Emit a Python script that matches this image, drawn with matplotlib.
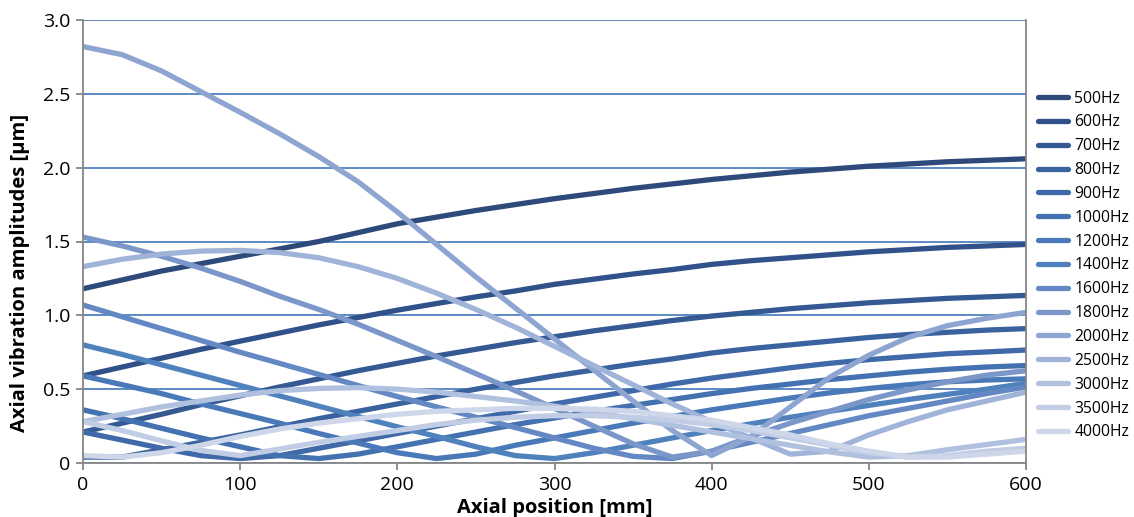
import matplotlib
matplotlib.use("Agg")
import matplotlib.pyplot as plt
from matplotlib.ticker import FixedLocator

plt.rcParams['font.family'] = ['Open Sans', 'DejaVu Sans']

position_mm = [0, 25, 50, 75, 100, 125, 150, 175, 200, 225, 250, 275, 300,
               325, 350, 375, 400, 425, 450, 475, 500, 525, 550, 575, 600]

f500 = [1.18, 1.24, 1.30, 1.35, 1.40, 1.45, 1.50, 1.56, 1.62, 1.665, 1.71, 1.75, 1.79,
        1.825, 1.86, 1.89, 1.92, 1.945, 1.97, 1.99, 2.01, 2.025, 2.04, 2.05, 2.06]
f600 = [0.59, 0.65, 0.71, 0.77, 0.825, 0.88, 0.935, 0.985, 1.035, 1.08, 1.125, 1.165, 1.21,
        1.245, 1.28, 1.31, 1.345, 1.37, 1.39, 1.41, 1.43, 1.445, 1.46, 1.47, 1.48]
f700 = [0.21, 0.27, 0.33, 0.395, 0.455, 0.515, 0.57, 0.625, 0.675, 0.725, 0.77, 0.815, 0.855,
        0.895, 0.93, 0.965, 0.995, 1.02, 1.045, 1.065, 1.085, 1.10, 1.115, 1.125, 1.135]
f800 = [0.04, 0.04, 0.09, 0.14, 0.19, 0.245, 0.30, 0.35, 0.40, 0.45, 0.50, 0.545, 0.59,
        0.63, 0.67, 0.705, 0.745, 0.775, 0.80, 0.825, 0.85, 0.87, 0.885, 0.90, 0.91]
f900 = [0.21, 0.155, 0.10, 0.05, 0.03, 0.05, 0.10, 0.15, 0.20, 0.25, 0.30, 0.35, 0.40,
        0.445, 0.49, 0.535, 0.575, 0.61, 0.645, 0.675, 0.70, 0.72, 0.74, 0.752, 0.765]
f1000 = [0.36, 0.30, 0.235, 0.17, 0.11, 0.05, 0.03, 0.06, 0.11, 0.16, 0.21, 0.26, 0.305,
         0.35, 0.39, 0.43, 0.47, 0.505, 0.535, 0.565, 0.59, 0.615, 0.635, 0.65, 0.66]
f1200 = [0.59, 0.53, 0.47, 0.40, 0.335, 0.27, 0.20, 0.135, 0.07, 0.03, 0.06, 0.12, 0.17,
         0.22, 0.27, 0.315, 0.36, 0.40, 0.44, 0.475, 0.505, 0.53, 0.55, 0.562, 0.57]
f1400 = [0.80, 0.735, 0.665, 0.595, 0.525, 0.455, 0.385, 0.315, 0.245, 0.18, 0.11, 0.05, 0.03,
         0.07, 0.12, 0.17, 0.22, 0.265, 0.31, 0.35, 0.39, 0.43, 0.465, 0.50, 0.54]
f1600 = [1.07, 0.99, 0.91, 0.83, 0.75, 0.675, 0.60, 0.525, 0.45, 0.38, 0.31, 0.24, 0.17,
         0.10, 0.045, 0.03, 0.08, 0.14, 0.20, 0.26, 0.32, 0.37, 0.42, 0.47, 0.515]
f1800 = [1.53, 1.47, 1.40, 1.32, 1.23, 1.13, 1.04, 0.94, 0.83, 0.72, 0.605, 0.49, 0.37,
         0.25, 0.13, 0.04, 0.08, 0.18, 0.27, 0.35, 0.43, 0.495, 0.55, 0.595, 0.625]
f2000 = [2.82, 2.765, 2.655, 2.515, 2.375, 2.23, 2.075, 1.905, 1.70, 1.48, 1.26, 1.05, 0.84,
         0.63, 0.42, 0.22, 0.05, 0.18, 0.38, 0.58, 0.73, 0.85, 0.93, 0.98, 1.02]
f2500 = [1.33, 1.38, 1.415, 1.435, 1.44, 1.425, 1.39, 1.33, 1.25, 1.15, 1.04, 0.92, 0.79,
         0.66, 0.53, 0.40, 0.28, 0.17, 0.06, 0.08, 0.19, 0.28, 0.36, 0.42, 0.48]
f3000 = [0.28, 0.33, 0.38, 0.42, 0.46, 0.49, 0.505, 0.51, 0.50, 0.48, 0.45, 0.42, 0.385,
         0.345, 0.30, 0.255, 0.21, 0.165, 0.12, 0.075, 0.04, 0.05, 0.09, 0.125, 0.16]
f3500 = [0.28, 0.22, 0.15, 0.085, 0.05, 0.095, 0.14, 0.18, 0.22, 0.26, 0.29, 0.31, 0.32,
         0.32, 0.31, 0.29, 0.26, 0.22, 0.17, 0.12, 0.07, 0.04, 0.05, 0.08, 0.10]
f4000 = [0.05, 0.04, 0.07, 0.12, 0.18, 0.23, 0.27, 0.30, 0.33, 0.35, 0.36, 0.37, 0.37,
         0.365, 0.35, 0.32, 0.29, 0.24, 0.19, 0.13, 0.08, 0.04, 0.04, 0.06, 0.08]

labels = ['500Hz', '600Hz', '700Hz', '800Hz', '900Hz', '1000Hz', '1200Hz', '1400Hz',
          '1600Hz', '1800Hz', '2000Hz', '2500Hz', '3000Hz', '3500Hz', '4000Hz']
series = [f500, f600, f700, f800, f900, f1000, f1200, f1400,
          f1600, f1800, f2000, f2500, f3000, f3500, f4000]
colors = ['#2e4a7a', '#30518a', '#345993', '#3a629e', '#3f69a8', '#4472b1', '#4979b8',
          '#4f81bd', '#6388c3', '#7b97c9', '#8ea5d1', '#a0b3d8', '#b0c0df', '#c1cde5', '#ced7e9']

x_ticks = [0, 100, 200, 300, 400, 500, 600]
y_ticks = [0, 0.5, 1.0, 1.5, 2.0, 2.5, 3.0]
y_tick_labels = ['0', '0.5', '1.0', '1.5', '2.0', '2.5', '3.0']

fig = plt.figure(figsize=(11.34, 5.17), dpi=100)
ax = fig.add_axes([83 / 1134, 1 - 463 / 517, (1026 - 83) / 1134, (463 - 20) / 517])

for vals, lab, col in zip(series, labels, colors):
    ax.plot(position_mm, vals, color=col, lw=3.8, label=lab, solid_capstyle='round',
            solid_joinstyle='round')

ax.set_xlim(0, 600)
ax.set_ylim(0, 3.0)
ax.xaxis.set_major_locator(FixedLocator(x_ticks))
ax.yaxis.set_major_locator(FixedLocator(y_ticks))
ax.set_yticklabels(y_tick_labels)
ax.grid(axis='y', color='#4f81bd', lw=1.3)
ax.set_axisbelow(True)
for s in ['left', 'bottom', 'right']:
    ax.spines[s].set_color('#868686')
    ax.spines[s].set_linewidth(1.3)
ax.spines['top'].set_visible(False)
ax.tick_params(axis='both', colors='#868686', length=5, width=1.3, labelsize=14,
               labelcolor='black', pad=4)
ax.set_xlabel('Axial position [mm]', fontsize=14.5, fontweight='bold', labelpad=3)
ax.set_ylabel('Axial vibration amplitudes [µm]', fontsize=14.5, fontweight='bold')
ax.yaxis.set_label_coords(-0.056, 0.43)

leg = ax.legend(loc='upper left', bbox_to_anchor=(1.006, 0.855), frameon=False,
                fontsize=11.3, handlelength=1.9, handletextpad=0.42, labelspacing=0.50,
                borderaxespad=0)

fig.savefig('out.png', dpi=100)
